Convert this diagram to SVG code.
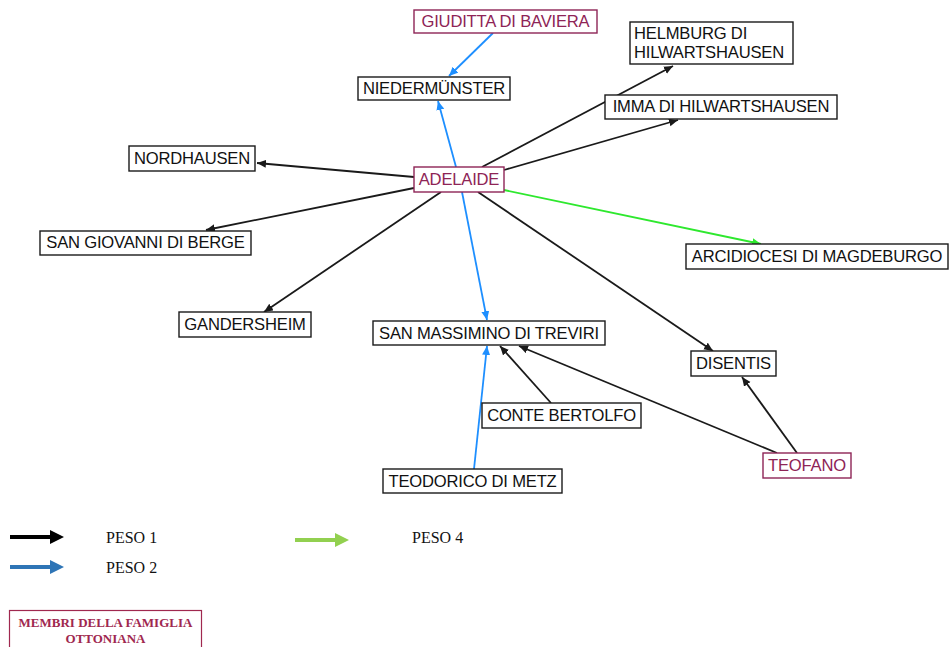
<svg xmlns="http://www.w3.org/2000/svg" width="949" height="647" viewBox="0 0 949 647">
  <style>
    .box { fill: #ffffff; stroke: #1a1a1a; stroke-width: 1.4; }
    .fam { fill: #ffffff; stroke: #8e2456; stroke-width: 1.4; }
    .lbl { font-family: "Liberation Sans", Arial, sans-serif; font-size: 16.6px; fill: #111111; text-anchor: middle; letter-spacing: -0.2px; }
    .lblf { font-family: "Liberation Sans", Arial, sans-serif; font-size: 16.6px; fill: #8e2456; text-anchor: middle; letter-spacing: -0.2px; }
    .k { stroke: #1a1a1a; stroke-width: 1.8; fill: none; marker-end: url(#ak); }
    .b { stroke: #1e8fff; stroke-width: 1.8; fill: none; marker-end: url(#ab); }
    .g { stroke: #2ee82e; stroke-width: 1.8; fill: none; marker-end: url(#ag); }
    .leg { font-family: "Liberation Serif", "Times New Roman", serif; font-size: 16px; fill: #111111; }
  </style>
  <defs>
    <marker id="ak" markerUnits="userSpaceOnUse" markerWidth="10" markerHeight="10" refX="9" refY="4" orient="auto">
      <path d="M0,0 L9,4 L0,8 Z" fill="#1a1a1a"/>
    </marker>
    <marker id="ab" markerUnits="userSpaceOnUse" markerWidth="10" markerHeight="10" refX="9" refY="4" orient="auto">
      <path d="M0,0 L9,4 L0,8 Z" fill="#1e8fff"/>
    </marker>
    <marker id="ag" markerUnits="userSpaceOnUse" markerWidth="10" markerHeight="10" refX="9" refY="4" orient="auto">
      <path d="M0,0 L9,4 L0,8 Z" fill="#2ee82e"/>
    </marker>
  </defs>

  <!-- connectors -->
  <g id="connectors">
    <line class="b" x1="493" y1="33" x2="449" y2="76"/>
    <line class="b" x1="456" y1="167" x2="438" y2="101"/>
    <line class="b" x1="462" y1="192" x2="487" y2="320"/>
    <line class="k" x1="482" y1="167" x2="673" y2="66"/>
    <line class="k" x1="504" y1="170" x2="678" y2="120"/>
    <line class="k" x1="414" y1="177" x2="257" y2="163"/>
    <line class="k" x1="414" y1="188" x2="206" y2="230"/>
    <line class="k" x1="441" y1="192" x2="264" y2="312"/>
    <line class="g" x1="504" y1="190" x2="761" y2="244"/>
    <line class="k" x1="478" y1="192" x2="713" y2="351"/>
    <line class="k" x1="551" y1="403" x2="500" y2="346"/>
    <line class="k" x1="777" y1="453" x2="519" y2="346"/>
    <line class="k" x1="797" y1="453" x2="742" y2="377"/>
    <line class="b" x1="474" y1="469" x2="487" y2="346"/>
  </g>

  <!-- nodes -->
  <g id="giuditta">
    <rect class="fam" x="414" y="10" width="183" height="23"/>
    <text class="lblf" x="505.5" y="27">GIUDITTA DI BAVIERA</text>
  </g>
  <g id="niedermunster">
    <rect class="box" x="358" y="77" width="152" height="23"/>
    <text class="lbl" x="434" y="94">NIEDERMÜNSTER</text>
  </g>
  <g id="helmburg">
    <rect class="box" x="630" y="22" width="163" height="42"/>
    <text class="lbl" x="634" y="39" style="text-anchor:start">HELMBURG DI</text>
    <text class="lbl" x="634" y="58" style="text-anchor:start">HILWARTSHAUSEN</text>
  </g>
  <g id="imma">
    <rect class="box" x="605" y="95" width="232" height="24"/>
    <text class="lbl" x="721" y="112">IMMA DI HILWARTSHAUSEN</text>
  </g>
  <g id="nordhausen">
    <rect class="box" x="129" y="146" width="126" height="25"/>
    <text class="lbl" x="192" y="164">NORDHAUSEN</text>
  </g>
  <g id="adelaide">
    <rect class="fam" x="414" y="167" width="90" height="25"/>
    <text class="lblf" x="459" y="185">ADELAIDE</text>
  </g>
  <g id="san-giovanni">
    <rect class="box" x="40" y="231" width="211" height="24"/>
    <text class="lbl" x="145.5" y="248">SAN GIOVANNI DI BERGE</text>
  </g>
  <g id="arcidiocesi">
    <rect class="box" x="686" y="244" width="262" height="25"/>
    <text class="lbl" x="817" y="262">ARCIDIOCESI DI MAGDEBURGO</text>
  </g>
  <g id="gandersheim">
    <rect class="box" x="179" y="312" width="132" height="25"/>
    <text class="lbl" x="245" y="330">GANDERSHEIM</text>
  </g>
  <g id="san-massimino">
    <rect class="box" x="373" y="321" width="232" height="24"/>
    <text class="lbl" x="489" y="339">SAN MASSIMINO DI TREVIRI</text>
  </g>
  <g id="disentis">
    <rect class="box" x="691" y="351" width="85" height="25"/>
    <text class="lbl" x="733.5" y="369">DISENTIS</text>
  </g>
  <g id="conte-bertolfo">
    <rect class="box" x="482" y="403" width="159" height="25"/>
    <text class="lbl" x="561.5" y="421">CONTE BERTOLFO</text>
  </g>
  <g id="teofano">
    <rect class="fam" x="763" y="453" width="88" height="25"/>
    <text class="lblf" x="807" y="471">TEOFANO</text>
  </g>
  <g id="teodorico">
    <rect class="box" x="383" y="469" width="179" height="24"/>
    <text class="lbl" x="472.5" y="487">TEODORICO DI METZ</text>
  </g>

  <!-- legend -->
  <g id="legend">
    <line x1="10" y1="537" x2="52" y2="537" stroke="#000000" stroke-width="4"/>
    <path d="M50,530 L64,537 L50,544 Z" fill="#000000"/>
    <text class="leg" x="106" y="543">PESO 1</text>
    <line x1="10" y1="567" x2="52" y2="567" stroke="#2e75b6" stroke-width="4"/>
    <path d="M50,560 L64,567 L50,574 Z" fill="#2e75b6"/>
    <text class="leg" x="106" y="573">PESO 2</text>
    <line x1="295" y1="540" x2="337" y2="540" stroke="#92d050" stroke-width="4"/>
    <path d="M335,533 L349,540 L335,547 Z" fill="#92d050"/>
    <text class="leg" x="412" y="543">PESO 4</text>
  </g>
  <g id="legend-family">
    <rect x="9.5" y="610.5" width="192" height="45" fill="#ffffff" stroke="#a0284f" stroke-width="1.2"/>
    <text x="105.5" y="627" font-family="'Liberation Serif', 'Times New Roman', serif" font-size="13" font-weight="bold" fill="#a0284f" text-anchor="middle">MEMBRI DELLA FAMIGLIA</text>
    <text x="105.5" y="643" font-family="'Liberation Serif', 'Times New Roman', serif" font-size="13" font-weight="bold" fill="#a0284f" text-anchor="middle">OTTONIANA</text>
  </g>
</svg>
